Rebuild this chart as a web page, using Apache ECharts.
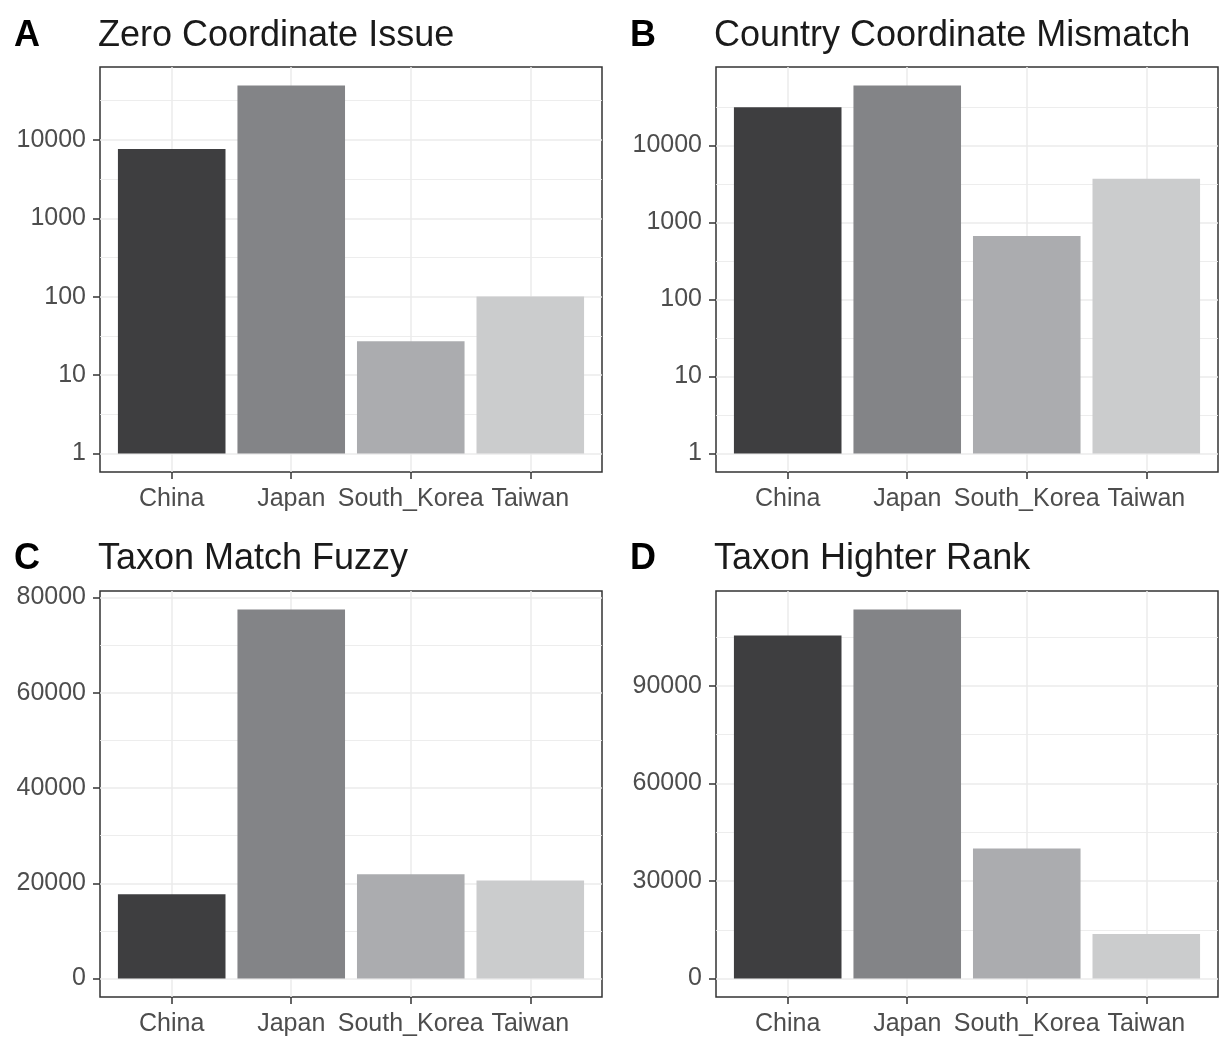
<!DOCTYPE html>
<html>
<head>
<meta charset="utf-8">
<script src="https://cdn.jsdelivr.net/npm/echarts@6/dist/echarts.min.js"></script>
<style>
  html, body { margin: 0; padding: 0; background: #ffffff; }
  #chart { width: 1232px; height: 1055px; }
</style>
</head>
<body>
<div id="chart"></div>
<script>
// ---- Data ----
const categories = ['China', 'Japan', 'South_Korea', 'Taiwan'];
const zeroCoordinateIssue = [7640, 49600, 27, 101];
const countryCoordinateMismatch = [31600, 60500, 670, 3700];
const taxonMatchFuzzy = [17700, 77500, 21900, 20600];
const taxonHigherRank = [105500, 113500, 40000, 13700];

const logTicks = [1, 10, 100, 1000, 10000];
const fuzzyTicks = [0, 20000, 40000, 60000, 80000];
const higherTicks = [0, 30000, 60000, 90000];

const panelTags = ['A', 'B', 'C', 'D'];
const panelTitles = ['Zero Coordinate Issue', 'Country Coordinate Mismatch', 'Taxon Match Fuzzy', 'Taxon Highter Rank'];
const barColors = ['#3e3e40', '#838487', '#abacaf', '#cbcccd'];

// ---- Layout / style ----
const FONT = "'Liberation Sans', Arial, sans-serif";
const grids = [
  { left: 100, top: 67, width: 502, height: 405 },
  { left: 716, top: 67, width: 502, height: 405 },
  { left: 100, top: 591, width: 502, height: 406 },
  { left: 716, top: 591, width: 502, height: 406 }
];
const titleTops = [18, 18, 541, 541];
const tagLefts = [14, 630, 14, 630];
const titleLefts = [98, 714, 98, 714];

const panels = [
  { values: zeroCoordinateIssue, ticks: logTicks, log: true },
  { values: countryCoordinateMismatch, ticks: logTicks, log: true },
  { values: taxonMatchFuzzy, ticks: fuzzyTicks, log: false },
  { values: taxonHigherRank, ticks: higherTicks, log: false }
];

const chart = echarts.init(document.getElementById('chart'), null, { renderer: 'canvas' });

const option = {
  backgroundColor: '#ffffff',
  animation: false,
  title: [],
  grid: [],
  xAxis: [],
  yAxis: [],
  series: []
};

const gridLineColor = '#ebebeb';
const axisTextColor = '#4d4d4d';
const LABEL_SIZE = 25;

panels.forEach((p, i) => {
  option.title.push({
    text: panelTags[i], left: tagLefts[i], top: titleTops[i], padding: 0,
    textStyle: { fontFamily: FONT, fontSize: 36, fontWeight: 'bold', color: '#000000' }
  });
  option.title.push({
    text: panelTitles[i], left: titleLefts[i], top: titleTops[i], padding: 0,
    textStyle: { fontFamily: FONT, fontSize: 36, fontWeight: 'normal', color: '#1a1a1a' }
  });

  option.grid.push(Object.assign({
    show: true, borderColor: '#333333', borderWidth: 1.5, backgroundColor: 'transparent',
    containLabel: false
  }, grids[i]));

  const catIdx = categories.map((c, k) => k + 1);
  option.xAxis.push({
    type: 'value', gridIndex: i, position: 'bottom', min: 0.4, max: 4.6, splitNumber: 4,
    axisLine: { show: false, onZero: false },
    axisTick: { show: true, length: 7, customValues: catIdx, lineStyle: { color: '#333333', width: 1.5 } },
    axisLabel: {
      customValues: catIdx, margin: 15, fontFamily: FONT, fontSize: LABEL_SIZE, color: axisTextColor,
      formatter: v => categories[Math.round(v) - 1] || ''
    },
    splitLine: { show: true, lineStyle: { color: gridLineColor, width: 1.5 } }
  });

  const maxV = Math.max(...p.values);
  let yMain;
  if (p.log) {
    const L = Math.log10(maxV);
    yMain = {
      type: 'log', logBase: 10, gridIndex: i, position: 'left',
      min: Math.pow(10, -0.05 * L), max: Math.pow(10, 1.05 * L),
      axisLine: { show: false, onZero: false },
      axisTick: { show: true, length: 7, customValues: p.ticks, lineStyle: { color: '#333333', width: 1.5 } },
      axisLabel: { customValues: p.ticks, margin: 14, fontFamily: FONT, fontSize: LABEL_SIZE, color: axisTextColor,
        formatter: v => String(Math.round(v)) },
      splitLine: { show: true, lineStyle: { color: gridLineColor, width: 1.5 } }
    };
    option.yAxis.push(yMain);
    // helper axis in log10 space, only to draw ggplot-style minor grid lines (half decades)
    option.yAxis.push({
      type: 'value', gridIndex: i, position: 'left',
      min: -0.05 * L, max: 1.05 * L, splitNumber: 5,
      axisLine: { show: false, onZero: false }, axisTick: { show: false }, axisLabel: { show: false },
      splitLine: { show: false },
      minorTick: { show: false, splitNumber: 2 },
      minorSplitLine: { show: true, lineStyle: { color: gridLineColor, width: 0.9 } }
    });
  } else {
    yMain = {
      type: 'value', gridIndex: i, position: 'left',
      min: -0.05 * maxV, max: 1.05 * maxV, splitNumber: 4,
      axisLine: { show: false, onZero: false },
      axisTick: { show: true, length: 7, customValues: p.ticks, lineStyle: { color: '#333333', width: 1.5 } },
      axisLabel: { customValues: p.ticks, margin: 14, fontFamily: FONT, fontSize: LABEL_SIZE, color: axisTextColor,
        formatter: v => String(Math.round(v)) },
      splitLine: { show: true, lineStyle: { color: gridLineColor, width: 1.5 } },
      minorTick: { show: false, splitNumber: 2 },
      minorSplitLine: { show: true, lineStyle: { color: gridLineColor, width: 0.9 } }
    };
    option.yAxis.push(yMain);
  }
  const yIndex = option.yAxis.indexOf(yMain);

  option.series.push({
    type: 'bar',
    xAxisIndex: i,
    yAxisIndex: yIndex,
    barWidth: '90%',
    data: p.values.map((v, k) => ({ value: [k + 1, v], itemStyle: { color: barColors[k] } })),
    itemStyle: { borderWidth: 0 },
    emphasis: { disabled: true },
    z: 3
  });
});

chart.setOption(option);
</script>
</body>
</html>
